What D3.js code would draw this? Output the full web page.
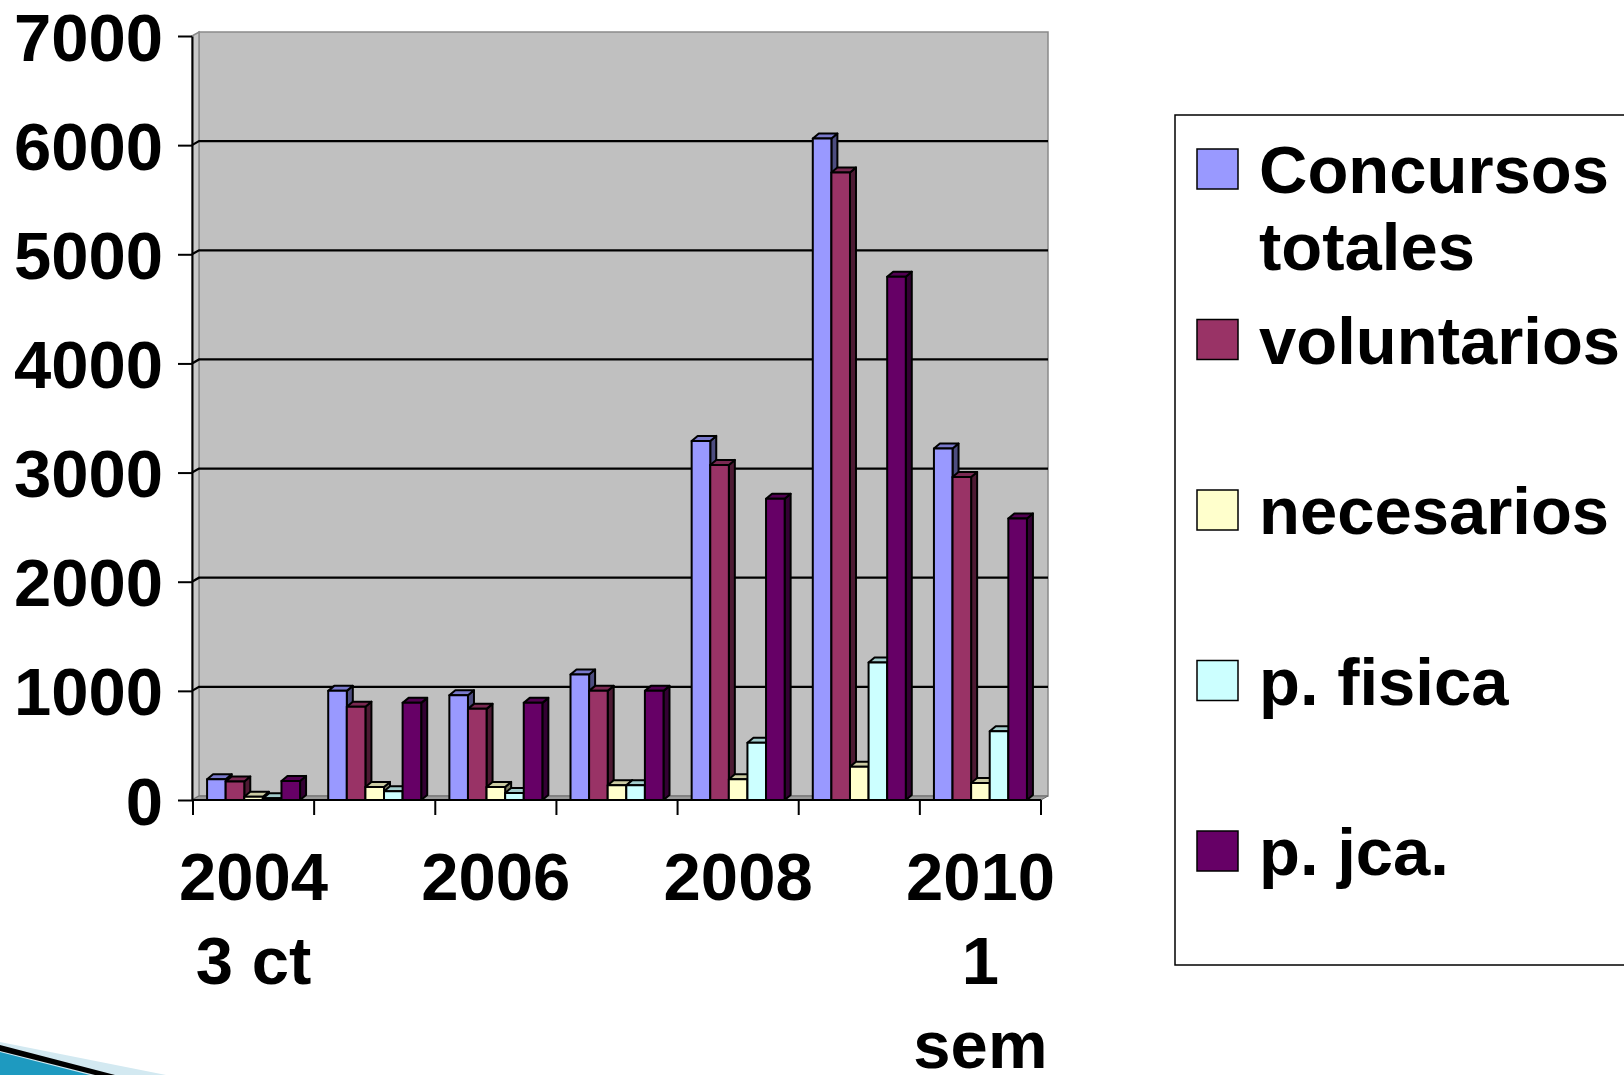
<!DOCTYPE html>
<html>
<head>
<meta charset="utf-8">
<script src="https://cdn.jsdelivr.net/npm/d3@7"></script>
<style>
  html, body { margin: 0; padding: 0; background: #fff; }
  svg { display: block; }
  text { font-family: "Liberation Sans", Arial, sans-serif; font-weight: bold; fill: #000; }
</style>
</head>
<body>
<svg id="chart" width="1624" height="1075"></svg>
<script>
// ---- Data ----
const categories = ["2004 3 ct", "2005", "2006", "2007", "2008", "2009", "2010 1 sem"];
const categoryLabels = [["2004", "3 ct"], [], ["2006"], [], ["2008"], [], ["2010", "1", "sem"]];
const seriesNames = ["Concursos totales", "voluntarios", "necesarios", "p. fisica", "p. jca."];
const seriesColors = ["#9999FF", "#993366", "#FFFFCC", "#CCFFFF", "#660066"];
const totales     = [190, 1000, 960, 1150, 3290, 6060, 3220];
const voluntarios = [170, 855, 835, 1000, 3070, 5750, 2960];
const necesarios  = [30, 120, 120, 135, 190, 305, 155];
const fisica      = [15, 80, 65, 135, 525, 1260, 630];
const jca         = [175, 890, 890, 1000, 2760, 4795, 2580];
const yTicks = [0, 1000, 2000, 3000, 4000, 5000, 6000, 7000];

const seriesValues = [totales, voluntarios, necesarios, fisica, jca];

// ---- Layout ----
const svg = d3.select("#chart");
const FONT = 67;
const plotL = 192, plotR = 1041, plotB = 800, plotT = 36;
const wdx = 7, wdy = -4;   // wall depth
const bdx = 6, bdy = -5;   // bar depth

const x0 = d3.scaleBand().domain(categories).range([plotL + 1, plotR]).padding(0);
const x1 = d3.scaleBand().domain(seriesNames).range([0, x0.bandwidth()])
  .paddingInner(0).paddingOuter(0.757);
const y = d3.scaleLinear().domain([0, 7000]).range([plotB, plotT]);

function shade(c, k) {
  const r = d3.rgb(c);
  return d3.rgb(r.r * k, r.g * k, r.b * k).formatHex();
}

// ---- Walls ----
const gWall = svg.append("g");
gWall.append("rect")
  .attr("x", plotL + wdx).attr("y", y(7000) + wdy)
  .attr("width", plotR - plotL).attr("height", plotB - y(7000))
  .attr("fill", "#C0C0C0").attr("stroke", "#8A8A8A").attr("stroke-width", 1.5);
gWall.append("polygon")
  .attr("points", [[plotL, y(7000)], [plotL + wdx, y(7000) + wdy], [plotL + wdx, plotB + wdy], [plotL, plotB]].join(" "))
  .attr("fill", "#C8C8C8").attr("stroke", "#8A8A8A").attr("stroke-width", 1.5);
// floor
gWall.append("polygon")
  .attr("points", [[plotL, plotB], [plotL + wdx, plotB + wdy], [plotR + wdx, plotB + wdy], [plotR, plotB]].join(" "))
  .attr("fill", "#9A9A9A").attr("stroke", "#6A6A6A").attr("stroke-width", 1);

// gridlines
svg.append("g").selectAll("path")
  .data(yTicks.filter(v => v > 0 && v < 7000))
  .join("path")
  .attr("d", v => `M${plotL},${y(v)} L${plotL + wdx},${y(v) + wdy} L${plotR + wdx},${y(v) + wdy}`)
  .attr("fill", "none").attr("stroke", "#000").attr("stroke-width", 2.2);

// ---- Bars ----
const gBars = svg.append("g");
categories.forEach((c, ci) => {
  seriesNames.forEach((s, si) => {
    const v = seriesValues[si][ci];
    const col = seriesColors[si];
    const bx = x0(c) + x1(s), bw = x1.bandwidth(), by = y(v);
    const g = gBars.append("g").attr("stroke", "#000").attr("stroke-width", 2).attr("stroke-linejoin", "round");
    g.append("polygon")
      .attr("points", [[bx + bw, by], [bx + bw + bdx, by + bdy], [bx + bw + bdx, plotB + bdy], [bx + bw, plotB]].join(" "))
      .attr("fill", shade(col, 0.5));
    g.append("polygon")
      .attr("points", [[bx, by], [bx + bdx, by + bdy], [bx + bw + bdx, by + bdy], [bx + bw, by]].join(" "))
      .attr("fill", shade(col, 0.8));
    g.append("rect")
      .attr("x", bx).attr("y", by).attr("width", bw).attr("height", plotB - by)
      .attr("fill", col);
  });
});

// ---- Y axis ----
const yAxis = d3.axisLeft(y).tickValues(yTicks).tickSize(14).tickSizeOuter(0).tickPadding(15)
  .tickFormat(d3.format("d"));
const gy = svg.append("g").attr("transform", `translate(${plotL},0)`).call(yAxis);
gy.select(".domain").attr("stroke", "#000").attr("stroke-width", 2);
gy.selectAll(".tick line").attr("stroke", "#000").attr("stroke-width", 2);
gy.selectAll(".tick text")
  .attr("font-size", FONT).attr("font-family", "Liberation Sans, Arial, sans-serif")
  .attr("font-weight", "bold").attr("fill", "#000").attr("dy", "0.36em");

// ---- X axis ----
const gx = svg.append("g");
gx.append("line").attr("x1", plotL).attr("x2", plotR).attr("y1", plotB).attr("y2", plotB)
  .attr("stroke", "#000").attr("stroke-width", 2);
const bounds = categories.map(c => x0(c)).concat([x0(categories[categories.length - 1]) + x0.bandwidth()]);
gx.selectAll("line.tick").data(bounds).join("line").attr("class", "tick")
  .attr("x1", d => d).attr("x2", d => d).attr("y1", plotB).attr("y2", plotB + 15)
  .attr("stroke", "#000").attr("stroke-width", 2);
const xl = gx.selectAll("text.xl").data(categories).join("text").attr("class", "xl")
  .attr("text-anchor", "middle").attr("font-size", FONT)
  .attr("x", c => x0(c) + x0.bandwidth() / 2).attr("y", 900);
xl.each(function(c, i) {
  d3.select(this).selectAll("tspan").data(categoryLabels[i]).join("tspan")
    .attr("x", x0(c) + x0.bandwidth() / 2)
    .attr("dy", (d, j) => j === 0 ? 0 : 84)
    .text(d => d);
});

// ---- Legend ----
const gl = svg.append("g");
gl.append("rect").attr("x", 1175).attr("y", 115).attr("width", 520).attr("height", 850)
  .attr("fill", "#fff").attr("stroke", "#000").attr("stroke-width", 1.5);
const legY = d3.scalePoint().domain(seriesNames).range([169, 851]);
seriesNames.forEach((s, i) => {
  const cy = legY(s);
  gl.append("rect").attr("x", 1197).attr("y", cy - 20).attr("width", 41).attr("height", 40)
    .attr("fill", seriesColors[i]).attr("stroke", "#000").attr("stroke-width", 1.5);
  const t = gl.append("text").attr("x", 1259).attr("y", cy + 24).attr("font-size", FONT);
  const words = s.split(" ");
  let line = [], lines = [];
  const tmp = t.append("tspan");
  words.forEach(w => {
    const trial = line.concat([w]).join(" ");
    tmp.text(trial);
    if (tmp.node().getComputedTextLength() > 366 && line.length) {
      lines.push(line.join(" "));
      line = [w];
    } else line.push(w);
  });
  lines.push(line.join(" "));
  tmp.remove();
  t.selectAll("tspan").data(lines).join("tspan")
    .attr("x", 1259).attr("dy", (d, j) => j === 0 ? 0 : 77).text(d => d);
});

// ---- Decorative swoosh (bottom-left) ----
const gs = svg.append("g");
gs.append("polygon").attr("points", "0,1042 166,1075 0,1075").attr("fill", "#D3E9F1");
gs.append("polygon").attr("points", "0,1045 115,1075 95,1075 0,1051").attr("fill", "#000");
gs.append("polygon").attr("points", "0,1052 90,1075 0,1075").attr("fill", "#1E9AC0");
</script>
</body>
</html>
